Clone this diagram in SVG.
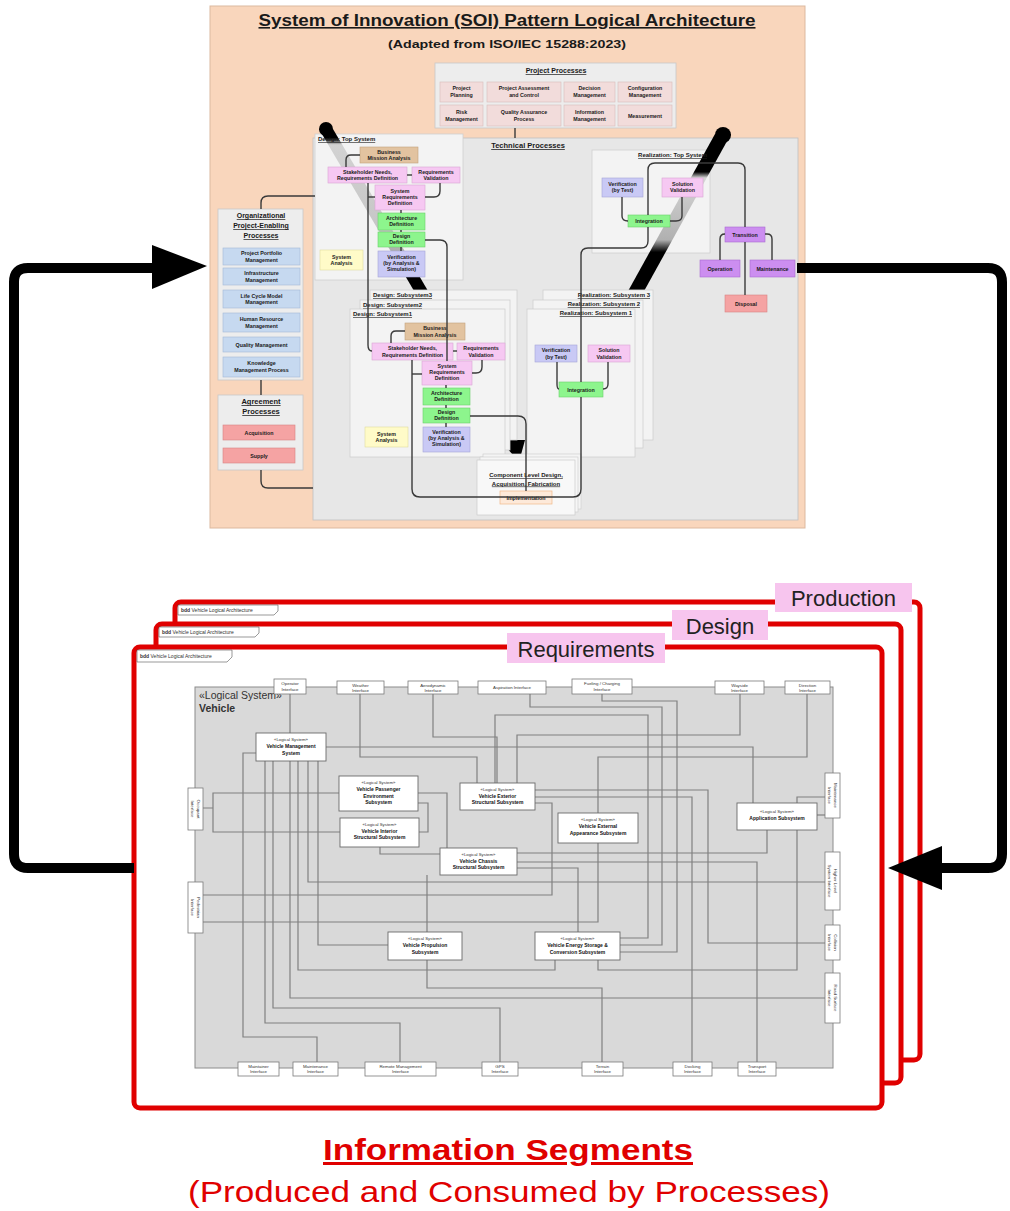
<svg xmlns="http://www.w3.org/2000/svg" width="1010" height="1211" viewBox="0 0 1010 1211">
<style>
text{font-family:"Liberation Sans",Arial,sans-serif}
.b5{font-size:5.3px;font-weight:bold;fill:#1a1a1a;text-anchor:middle}
.ttl{font-weight:bold;text-decoration:underline;fill:#1a1a1a}
.cn{fill:none;stroke:#3a3a3a;stroke-width:1.4}
.vl{fill:none;stroke:#808080;stroke-width:1.2}
.lg{font-size:4.3px;fill:#333;text-anchor:middle}
.lb{font-size:5px;font-weight:bold;fill:#111;text-anchor:middle}
.it{font-size:4.4px;fill:#333;text-anchor:middle}
.if{fill:#fff;stroke:#7a7a7a;stroke-width:.8}
.sb{fill:#fff;stroke:#6a6a6a;stroke-width:.9}
.pp{fill:#f2dcdb;stroke:#d8bcbb;stroke-width:.6}
.pk{fill:#f6c8f2;stroke:#d9a6d4;stroke-width:.6}
.tn{fill:#e2c3a0;stroke:#c4a27e;stroke-width:.6}
.gr{fill:#8df58d;stroke:#6ccf6c;stroke-width:.6}
.lv{fill:#c9c9f5;stroke:#a6a6d8;stroke-width:.6}
.yl{fill:#fffbc8;stroke:#e0dca0;stroke-width:.6}
.bl{fill:#c6d9f0;stroke:#a3bad8;stroke-width:.6}
.rd{fill:#f5a3a3;stroke:#d88484;stroke-width:.6}
.pu{fill:#cc8ef0;stroke:#a96cd0;stroke-width:.6}
.wb{fill:#f3f3f3;stroke:#cfcfcf;stroke-width:.8}
.frame{fill:#fff;stroke:#e00000;stroke-width:5}
.lab{fill:#f7c5ee}
.labt{font-size:22px;fill:#222;text-anchor:middle}
.bdd{font-size:5px;fill:#333}
.tab{fill:#fff;stroke:#555;stroke-width:.6}
.arr{fill:none;stroke:#000;stroke-width:10;stroke-linejoin:round}
</style>
<defs>
<linearGradient id="gL" gradientUnits="userSpaceOnUse" x1="0" y1="128" x2="0" y2="462">
<stop offset="0" stop-color="#000"/><stop offset="0.03" stop-color="#000"/><stop offset="0.05" stop-color="#d2d2d2"/><stop offset="0.3" stop-color="#c6c6c6"/><stop offset="0.42" stop-color="#9a9a9a"/><stop offset="0.445" stop-color="#000"/><stop offset="1" stop-color="#000"/>
</linearGradient>
<linearGradient id="gR" gradientUnits="userSpaceOnUse" x1="0" y1="130" x2="0" y2="460">
<stop offset="0" stop-color="#000"/><stop offset="0.127" stop-color="#000"/><stop offset="0.145" stop-color="#d6d6d6"/><stop offset="0.333" stop-color="#b0b0b0"/><stop offset="0.37" stop-color="#000"/><stop offset="0.48" stop-color="#000"/><stop offset="0.52" stop-color="#999"/><stop offset="0.94" stop-color="#d8d8d8"/><stop offset="1" stop-color="#d8d8d8"/>
</linearGradient>
</defs>

<!-- ===== TOP PANEL ===== -->
<g id="panel-top">
<rect x="210" y="6" width="595" height="522" fill="#f9d6bc" stroke="#dcb99f"/>
<text x="507" y="26" class="ttl" font-size="16" text-anchor="middle" textLength="497" lengthAdjust="spacingAndGlyphs">System of Innovation (SOI) Pattern Logical Architecture</text>
<text x="507" y="48" font-size="11.5" font-weight="bold" fill="#1a1a1a" text-anchor="middle" textLength="238" lengthAdjust="spacingAndGlyphs">(Adapted from ISO/IEC 15288:2023)</text>
</g>

<g id="project-processes">
<rect x="435" y="63" width="241" height="65" fill="#ededed" stroke="#c8c8c8" stroke-width=".8"/>
<text x="556" y="73" class="ttl" font-size="7" text-anchor="middle">Project Processes</text>
<rect class="pp" x="440" y="82" width="43" height="20"/><text class="b5" x="461.5" y="90">Project</text><text class="b5" x="461.5" y="97">Planning</text>
<rect class="pp" x="487" y="82" width="74" height="20"/><text class="b5" x="524" y="90">Project Assessment</text><text class="b5" x="524" y="97">and Control</text>
<rect class="pp" x="564" y="82" width="51" height="20"/><text class="b5" x="589.5" y="90">Decision</text><text class="b5" x="589.5" y="97">Management</text>
<rect class="pp" x="618" y="82" width="54" height="20"/><text class="b5" x="645" y="90">Configuration</text><text class="b5" x="645" y="97">Management</text>
<rect class="pp" x="440" y="105" width="43" height="21"/><text class="b5" x="461.5" y="113.5">Risk</text><text class="b5" x="461.5" y="120.5">Management</text>
<rect class="pp" x="487" y="105" width="74" height="21"/><text class="b5" x="524" y="113.5">Quality Assurance</text><text class="b5" x="524" y="120.5">Process</text>
<rect class="pp" x="564" y="105" width="51" height="21"/><text class="b5" x="589.5" y="113.5">Information</text><text class="b5" x="589.5" y="120.5">Management</text>
<rect class="pp" x="618" y="105" width="54" height="21"/><text class="b5" x="645" y="117.5">Measurement</text>
</g>

<g id="technical-processes">
<rect x="313" y="138" width="485" height="382" fill="#e7e7e7" stroke="#c0c0c0" stroke-width=".8"/>
<text x="528" y="148" class="ttl" font-size="7.5" text-anchor="middle">Technical Processes</text>
</g>

<g id="design-top-frame">
<rect class="wb" x="315" y="134" width="148" height="146"/>
</g>
<g id="realization-top-frame">
<rect class="wb" x="592" y="150" width="118" height="103"/>
</g>

<!-- diagonal flow bands -->
<g id="band-left">
<polygon points="319,129 333,129 515.5,440 501.5,440" fill="url(#gL)"/>
<circle cx="326" cy="129" r="7" fill="#000"/>
<polygon points="500,440 525,440 519,462" fill="#000"/>
</g>
<g id="band-right">
<polygon points="715,134 731,134 555,452 539,452" fill="url(#gR)"/>
<circle cx="723" cy="135" r="8" fill="#000"/>
<polygon points="532,450 556,448 550,461 528,461" fill="#d4d4d4"/>
</g>

<text x="318" y="141" class="ttl" font-size="6">Design: Top System</text>
<text x="707" y="157" class="ttl" font-size="6" text-anchor="end">Realization: Top System</text>

<g id="design-top">
<rect class="tn" x="360" y="147" width="58" height="16"/><text class="b5" x="389" y="153.5">Business</text><text class="b5" x="389" y="159.5">Mission Analysis</text>
<rect class="pk" x="328" y="167" width="79" height="16"/><text class="b5" x="367.5" y="173.5">Stakeholder Needs,</text><text class="b5" x="367.5" y="179.5">Requirements Definition</text>
<rect class="pk" x="412" y="167" width="48" height="16"/><text class="b5" x="436" y="173.5">Requirements</text><text class="b5" x="436" y="179.5">Validation</text>
<rect class="pk" x="375" y="185" width="50" height="25"/><text class="b5" x="400" y="192.5">System</text><text class="b5" x="400" y="198.5">Requirements</text><text class="b5" x="400" y="204.5">Definition</text>
<rect class="gr" x="378" y="213" width="47" height="17"/><text class="b5" x="401.5" y="220">Architecture</text><text class="b5" x="401.5" y="226">Definition</text>
<rect class="gr" x="378" y="232" width="47" height="15"/><text class="b5" x="401.5" y="238">Design</text><text class="b5" x="401.5" y="244">Definition</text>
<rect class="lv" x="378" y="251" width="47" height="26"/><text class="b5" x="401.5" y="258.5">Verification</text><text class="b5" x="401.5" y="264.5">(by Analysis &amp;</text><text class="b5" x="401.5" y="270.5">Simulation)</text>
<rect class="yl" x="320" y="250" width="43" height="20"/><text class="b5" x="341.5" y="258.5">System</text><text class="b5" x="341.5" y="264.5">Analysis</text>
</g>

<g id="realization-top">
<rect class="lv" x="602" y="178" width="41" height="19"/><text class="b5" x="622.5" y="186">Verification</text><text class="b5" x="622.5" y="192">(by Test)</text>
<rect class="pk" x="662" y="178" width="41" height="19"/><text class="b5" x="682.5" y="186">Solution</text><text class="b5" x="682.5" y="192">Validation</text>
<rect class="gr" x="628" y="215" width="42" height="12"/><text class="b5" x="649" y="223">Integration</text>
</g>

<g id="life-cycle">
<rect class="pu" x="725" y="227" width="40" height="15"/><text class="b5" x="745" y="236.5">Transition</text>
<rect class="pu" x="700" y="260" width="40" height="17"/><text class="b5" x="720" y="270.5">Operation</text>
<rect class="pu" x="750" y="260" width="45" height="17"/><text class="b5" x="772.5" y="270.5">Maintenance</text>
<rect class="rd" x="725" y="295" width="42" height="17"/><text class="b5" x="746" y="305.5">Disposal</text>
</g>

<g id="org-processes">
<rect x="218" y="209" width="85" height="171" fill="#ededed" stroke="#c8c8c8" stroke-width=".8"/>
<text x="261" y="218" class="ttl" font-size="7" text-anchor="middle">Organizational</text>
<text x="261" y="228" class="ttl" font-size="7" text-anchor="middle">Project-Enabling</text>
<text x="261" y="238" class="ttl" font-size="7" text-anchor="middle">Processes</text>
<rect class="bl" x="223" y="248" width="77" height="17"/><text class="b5" x="261.5" y="255">Project Portfolio</text><text class="b5" x="261.5" y="261.5">Management</text>
<rect class="bl" x="223" y="268" width="77" height="17"/><text class="b5" x="261.5" y="275">Infrastructure</text><text class="b5" x="261.5" y="281.5">Management</text>
<rect class="bl" x="223" y="290" width="77" height="18"/><text class="b5" x="261.5" y="297.5">Life Cycle Model</text><text class="b5" x="261.5" y="304">Management</text>
<rect class="bl" x="223" y="313" width="77" height="19"/><text class="b5" x="261.5" y="321">Human Resource</text><text class="b5" x="261.5" y="327.5">Management</text>
<rect class="bl" x="223" y="337" width="77" height="15"/><text class="b5" x="261.5" y="346.5">Quality Management</text>
<rect class="bl" x="223" y="357" width="77" height="20"/><text class="b5" x="261.5" y="365">Knowledge</text><text class="b5" x="261.5" y="371.5">Management Process</text>
</g>

<g id="agreement-processes">
<rect x="218" y="395" width="85" height="75" fill="#ededed" stroke="#c8c8c8" stroke-width=".8"/>
<text x="261" y="404" class="ttl" font-size="7.5" text-anchor="middle">Agreement</text>
<text x="261" y="414" class="ttl" font-size="7.5" text-anchor="middle">Processes</text>
<rect class="rd" x="223" y="425" width="72" height="15"/><text class="b5" x="259" y="434.5">Acquisition</text>
<rect class="rd" x="223" y="448" width="72" height="15"/><text class="b5" x="259" y="457.5">Supply</text>
</g>

<g id="design-subsystems">
<rect class="wb" x="370" y="290" width="147" height="150"/>
<text x="373" y="297" class="ttl" font-size="6">Design: Subsystem3</text>
<rect class="wb" x="360" y="300" width="150" height="150"/>
<text x="363" y="307" class="ttl" font-size="6">Design: Subsystem2</text>
<rect class="wb" x="350" y="309" width="155" height="148"/>
<text x="353" y="316" class="ttl" font-size="6">Design: Subsystem1</text>
<rect class="tn" x="405" y="323" width="60" height="17"/><text class="b5" x="435" y="330">Business</text><text class="b5" x="435" y="336.5">Mission Analysis</text>
<rect class="pk" x="372" y="343" width="81" height="17"/><text class="b5" x="412.5" y="350">Stakeholder Needs,</text><text class="b5" x="412.5" y="356.5">Requirements Definition</text>
<rect class="pk" x="457" y="343" width="48" height="17"/><text class="b5" x="481" y="350">Requirements</text><text class="b5" x="481" y="356.5">Validation</text>
<rect class="pk" x="422" y="361" width="50" height="24"/><text class="b5" x="447" y="368">System</text><text class="b5" x="447" y="374">Requirements</text><text class="b5" x="447" y="380">Definition</text>
<rect class="gr" x="423" y="388" width="47" height="17"/><text class="b5" x="446.5" y="395">Architecture</text><text class="b5" x="446.5" y="401">Definition</text>
<rect class="gr" x="423" y="408" width="47" height="15"/><text class="b5" x="446.5" y="414">Design</text><text class="b5" x="446.5" y="420">Definition</text>
<rect class="lv" x="423" y="427" width="47" height="25"/><text class="b5" x="446.5" y="434">Verification</text><text class="b5" x="446.5" y="440">(by Analysis &amp;</text><text class="b5" x="446.5" y="446">Simulation)</text>
<rect class="yl" x="365" y="427" width="43" height="20"/><text class="b5" x="386.5" y="435.5">System</text><text class="b5" x="386.5" y="441.5">Analysis</text>
</g>

<g id="realization-subsystems">
<rect class="wb" x="543" y="290" width="110" height="150"/>
<text x="650" y="297" class="ttl" font-size="6" text-anchor="end">Realization: Subsystem 3</text>
<rect class="wb" x="533" y="300" width="110" height="148"/>
<text x="640" y="306" class="ttl" font-size="6" text-anchor="end">Realization: Subsystem 2</text>
<rect class="wb" x="527" y="309" width="108" height="148"/>
<text x="632" y="315" class="ttl" font-size="6" text-anchor="end">Realization: Subsystem 1</text>
<rect class="lv" x="535" y="345" width="42" height="17"/><text class="b5" x="556" y="352">Verification</text><text class="b5" x="556" y="358.5">(by Test)</text>
<rect class="pk" x="588" y="345" width="42" height="17"/><text class="b5" x="609" y="352">Solution</text><text class="b5" x="609" y="358.5">Validation</text>
<rect class="gr" x="559" y="382" width="44" height="15"/><text class="b5" x="581" y="391.5">Integration</text>
</g>

<g id="component-level">
<rect x="483" y="454" width="98" height="55" fill="#f4f4f4" stroke="#d0d0d0" stroke-width=".7"/>
<rect x="480" y="457" width="98" height="55" fill="#f6f6f6" stroke="#d0d0d0" stroke-width=".7"/>
<rect x="477" y="460" width="98" height="55" fill="#f8f8f8" stroke="#cccccc" stroke-width=".7"/>
<text x="526" y="477" class="ttl" font-size="6" text-anchor="middle">Component Level Design,</text>
<text x="526" y="485.5" class="ttl" font-size="6" text-anchor="middle">Acquisition, Fabrication</text>
<rect x="500" y="491" width="52" height="13" fill="#fde9d9" stroke="#f0b98a" stroke-width=".7"/>
<text class="b5" x="526" y="499.5">Implementation</text>
</g>

<g id="connectors-top">
<path class="cn" d="M515 128V138"/>
<path class="cn" d="M261 209V203Q261 196 268 196H315"/>
<path class="cn" d="M261 380V395"/>
<path class="cn" d="M261 470V481Q261 488 268 488H313"/>
<path class="cn" d="M360 155H351Q346 155 346 160V167"/>
<path class="cn" d="M407 175H412"/>
<path class="cn" d="M440 183V191Q440 197 434 197H425"/>
<path class="cn" d="M375 197H368"/>
<path class="cn" d="M401 210V213M401 230V232M401 247V251"/>
<path class="cn" d="M368 183V345Q368 351 372 351"/>
<path class="cn" d="M425 240H440Q447 240 447 247V361"/>
<path class="cn" d="M405 331H396Q391 331 391 336V343"/>
<path class="cn" d="M453 351H457"/>
<path class="cn" d="M482 360V367Q482 373 476 373H472"/>
<path class="cn" d="M422 374H412"/>
<path class="cn" d="M446 385V388M446 405V408M446 423V427"/>
<path class="cn" d="M470 416H518Q526 416 526 424V491"/>
<path class="cn" d="M412 360V489Q412 497 420 497H573Q581 497 581 489V397"/>
<path class="cn" d="M581 382V255Q581 248 588 248H641Q648 248 648 241V227"/>
<path class="cn" d="M557 362V384Q557 389 559 389"/>
<path class="cn" d="M608 362V384Q608 389 603 389"/>
<path class="cn" d="M622 197V216Q622 221 628 221"/>
<path class="cn" d="M682 197V216Q682 221 676 221H670"/>
<path class="cn" d="M648 215V170Q648 163 655 163H738Q745 163 745 170V227"/>
<path class="cn" d="M745 242V295"/>
<path class="cn" d="M725 234Q720 234 720 239V260"/>
<path class="cn" d="M765 234H767Q772 234 772 239V260"/>
</g>

<!-- ===== BOTTOM: INFORMATION SEGMENTS ===== -->
<g id="segment-production">
<rect class="frame" x="175" y="602" width="745" height="458" rx="6"/>
<path class="tab" d="M178 605H278V611L274 615H178Z"/>
<text class="bdd" x="181" y="612"><tspan font-weight="bold">bdd</tspan> Vehicle Logical Architecture</text>
<rect class="lab" x="775" y="583" width="137" height="29"/>
<text class="labt" x="843.5" y="606">Production</text>
</g>
<g id="segment-design">
<rect class="frame" x="156" y="624" width="745" height="459" rx="6"/>
<path class="tab" d="M159 627H259V633L255 637H159Z"/>
<text class="bdd" x="162" y="634"><tspan font-weight="bold">bdd</tspan> Vehicle Logical Architecture</text>
<rect class="lab" x="672" y="610" width="96" height="30"/>
<text class="labt" x="720" y="634">Design</text>
</g>
<g id="segment-requirements">
<rect class="frame" x="134" y="647" width="748" height="461" rx="6"/>
<path class="tab" d="M137 650H232V657L227 662H137Z"/>
<text class="bdd" x="140" y="658"><tspan font-weight="bold">bdd</tspan> Vehicle Logical Architecture</text>
<rect class="lab" x="507" y="633" width="158" height="30"/>
<text class="labt" x="586" y="657">Requirements</text>
</g>

<g id="vehicle">
<rect x="195" y="687" width="638" height="381" fill="#d9d9d9" stroke="#8c8c8c" stroke-width="1"/>
<text x="199" y="699" font-size="10.5" fill="#333">«Logical System»</text>
<text x="199" y="712" font-size="10.5" font-weight="bold" fill="#333">Vehicle</text>
</g>

<g id="vehicle-connectors">
<path class="vl" d="M290 694V733"/>
<path class="vl" d="M360 694V757H477V783"/>
<path class="vl" d="M433 694V737H497V783"/>
<path class="vl" d="M530 694V707H662V945H620"/>
<path class="vl" d="M602 694V701H677V952H620"/>
<path class="vl" d="M495 783V715H648V938H620"/>
<path class="vl" d="M740 694V735H517V783"/>
<path class="vl" d="M807 694V757H598V813"/>
<path class="vl" d="M326 747H753V803"/>
<path class="vl" d="M256 753H243V1037H317V1062"/>
<path class="vl" d="M265 761V1023H400V1062"/>
<path class="vl" d="M273 761V1008H500V1062"/>
<path class="vl" d="M290 761V998H825"/>
<path class="vl" d="M298 761V970H555V960"/>
<path class="vl" d="M308 761V882H825"/>
<path class="vl" d="M318 761V945H388"/>
<path class="vl" d="M203 808H213M339 793H213V832H340"/>
<path class="vl" d="M418 803H428V832H419"/>
<path class="vl" d="M418 793H447V848"/>
<path class="vl" d="M380 847V854H440"/>
<path class="vl" d="M427 875V932M427 960V988H602V1062"/>
<path class="vl" d="M535 790H708V943H825"/>
<path class="vl" d="M535 797H692V1062"/>
<path class="vl" d="M203 895H552V803H535"/>
<path class="vl" d="M203 922H598V843"/>
<path class="vl" d="M517 853H767V830"/>
<path class="vl" d="M517 862H757V1062"/>
<path class="vl" d="M517 868H578V932"/>
<path class="vl" d="M825 797H797V970H598V960"/>
<path class="vl" d="M817 815H825"/>
</g>

<g id="vehicle-subsystems">
<g id="vms"><rect class="sb" x="256" y="733" width="70" height="28"/><text class="lg" x="291" y="741">«Logical System»</text><text class="lb" x="291" y="748">Vehicle Management</text><text class="lb" x="291" y="754.5">System</text></g>
<g id="vpe"><rect class="sb" x="339" y="776" width="79" height="35"/><text class="lg" x="378.5" y="784">«Logical System»</text><text class="lb" x="378.5" y="791">Vehicle Passenger</text><text class="lb" x="378.5" y="797.5">Environment</text><text class="lb" x="378.5" y="804">Subsystem</text></g>
<g id="vis"><rect class="sb" x="340" y="818" width="79" height="29"/><text class="lg" x="379.5" y="825.5">«Logical System»</text><text class="lb" x="379.5" y="832.5">Vehicle Interior</text><text class="lb" x="379.5" y="839">Structural Subsystem</text></g>
<g id="ves"><rect class="sb" x="460" y="783" width="75" height="27"/><text class="lg" x="497.5" y="790.5">«Logical System»</text><text class="lb" x="497.5" y="797.5">Vehicle Exterior</text><text class="lb" x="497.5" y="804">Structural Subsystem</text></g>
<g id="vea"><rect class="sb" x="558" y="813" width="80" height="30"/><text class="lg" x="598" y="821">«Logical System»</text><text class="lb" x="598" y="828">Vehicle External</text><text class="lb" x="598" y="834.5">Appearance Subsystem</text></g>
<g id="vcs"><rect class="sb" x="440" y="848" width="77" height="27"/><text class="lg" x="478.5" y="855.5">«Logical System»</text><text class="lb" x="478.5" y="862.5">Vehicle Chassis</text><text class="lb" x="478.5" y="869">Structural Subsystem</text></g>
<g id="app"><rect class="sb" x="737" y="803" width="80" height="27"/><text class="lg" x="777" y="812.5">«Logical System»</text><text class="lb" x="777" y="820">Application Subsystem</text></g>
<g id="vps"><rect class="sb" x="388" y="932" width="74" height="28"/><text class="lg" x="425" y="940">«Logical System»</text><text class="lb" x="425" y="947">Vehicle Propulsion</text><text class="lb" x="425" y="953.5">Subsystem</text></g>
<g id="vesc"><rect class="sb" x="535" y="932" width="85" height="28"/><text class="lg" x="577.5" y="940">«Logical System»</text><text class="lb" x="577.5" y="947">Vehicle Energy Storage &amp;</text><text class="lb" x="577.5" y="953.5">Conversion Subsystem</text></g>
</g>

<g id="vehicle-interfaces">
<rect class="if" x="274" y="679" width="32" height="15"/><text class="it" x="290" y="685">Operator</text><text class="it" x="290" y="690.5">Interface</text>
<rect class="if" x="337" y="681" width="47" height="13"/><text class="it" x="360.5" y="686.5">Weather</text><text class="it" x="360.5" y="692">Interface</text>
<rect class="if" x="408" y="681" width="50" height="13"/><text class="it" x="433" y="686.5">Aerodynamic</text><text class="it" x="433" y="692">Interface</text>
<rect class="if" x="478" y="681" width="68" height="13"/><text class="it" x="512" y="689">Aspiration Interface</text>
<rect class="if" x="572" y="679" width="60" height="15"/><text class="it" x="602" y="685">Fueling / Charging</text><text class="it" x="602" y="690.5">Interface</text>
<rect class="if" x="715" y="681" width="49" height="13"/><text class="it" x="739.5" y="686.5">Wayside</text><text class="it" x="739.5" y="692">Interface</text>
<rect class="if" x="785" y="681" width="45" height="13"/><text class="it" x="807.5" y="686.5">Direction</text><text class="it" x="807.5" y="692">Interface</text>
<rect class="if" x="188" y="788" width="15" height="42"/><g transform="translate(195.5 809) rotate(90)"><text class="it" x="0" y="-1">Occupant</text><text class="it" x="0" y="4.5">Interface</text></g>
<rect class="if" x="188" y="882" width="15" height="51"/><g transform="translate(195.5 907.5) rotate(90)"><text class="it" x="0" y="-1">Pedestrian</text><text class="it" x="0" y="4.5">Interface</text></g>
<rect class="if" x="825" y="773" width="15" height="45"/><g transform="translate(832.5 795.5) rotate(90)"><text class="it" x="0" y="-1">Maintenance</text><text class="it" x="0" y="4.5">Interface</text></g>
<rect class="if" x="825" y="852" width="15" height="58"/><g transform="translate(832.5 881) rotate(90)"><text class="it" x="0" y="-1">Higher Level</text><text class="it" x="0" y="4.5">System Interface</text></g>
<rect class="if" x="825" y="925" width="15" height="35"/><g transform="translate(832.5 942.5) rotate(90)"><text class="it" x="0" y="-1">Collision</text><text class="it" x="0" y="4.5">Interface</text></g>
<rect class="if" x="825" y="973" width="15" height="50"/><g transform="translate(832.5 998) rotate(90)"><text class="it" x="0" y="-1">Road Surface</text><text class="it" x="0" y="4.5">Interface</text></g>
<rect class="if" x="238" y="1062" width="41" height="14"/><text class="it" x="258.5" y="1067.5">Maintainer</text><text class="it" x="258.5" y="1073">Interface</text>
<rect class="if" x="293" y="1062" width="45" height="14"/><text class="it" x="315.5" y="1067.5">Maintenance</text><text class="it" x="315.5" y="1073">Interface</text>
<rect class="if" x="365" y="1062" width="71" height="14"/><text class="it" x="400.5" y="1067.5">Remote Management</text><text class="it" x="400.5" y="1073">Interface</text>
<rect class="if" x="482" y="1062" width="36" height="14"/><text class="it" x="500" y="1067.5">GPS</text><text class="it" x="500" y="1073">Interface</text>
<rect class="if" x="582" y="1062" width="41" height="14"/><text class="it" x="602.5" y="1067.5">Terrain</text><text class="it" x="602.5" y="1073">Interface</text>
<rect class="if" x="673" y="1062" width="39" height="14"/><text class="it" x="692.5" y="1067.5">Docking</text><text class="it" x="692.5" y="1073">Interface</text>
<rect class="if" x="738" y="1062" width="38" height="14"/><text class="it" x="757" y="1067.5">Transport</text><text class="it" x="757" y="1073">Interface</text>
</g>

<g id="big-arrows">
<path class="arr" d="M134 868H28Q14 868 14 854V282Q14 268 28 268H158"/>
<polygon points="152,245 207,266 152,289" fill="#000"/>
<path class="arr" d="M797 268H988Q1002 268 1002 282V854Q1002 868 988 868H936"/>
<polygon points="942,846 888,868 942,890" fill="#000"/>
</g>

<g id="caption">
<text x="508" y="1160" font-size="30" font-weight="bold" fill="#e00000" text-anchor="middle" text-decoration="underline" textLength="370" lengthAdjust="spacingAndGlyphs">Information Segments</text>
<text x="509" y="1202" font-size="30" fill="#e00000" text-anchor="middle" textLength="642" lengthAdjust="spacingAndGlyphs">(Produced and Consumed by Processes)</text>
</g>
</svg>
